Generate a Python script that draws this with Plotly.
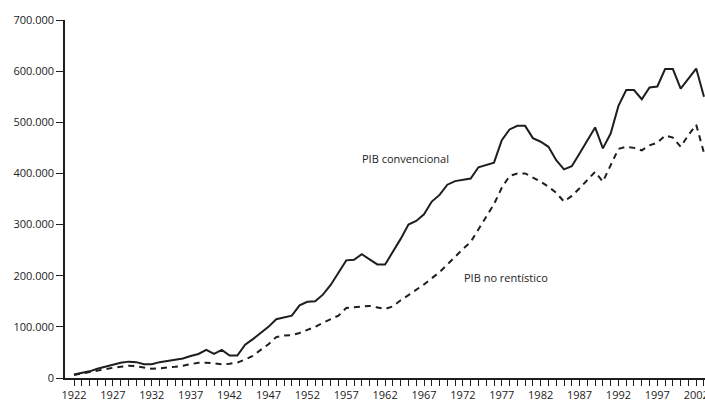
import plotly.graph_objects as go

years = list(range(1922, 2004))

pib_convencional = [
    7, 10, 13, 18, 22, 26, 30, 32, 31, 27,
    27, 31, 33, 36, 38, 43, 47, 55, 47, 55,
    44, 44, 65, 76, 88, 100, 115, 118, 122, 142,
    149, 150, 163, 182, 205, 230, 231, 242, 232, 222,
    222, 246, 272, 300, 307, 320, 345, 358, 378, 385,
    387, 390, 412, 417,
    421, 465, 486, 493, 493, 469, 462, 452, 426, 408,
    414, 439, 465, 490, 449, 478, 532, 563, 563, 545,
    568, 570, 604, 604, 566, 585, 605, 550,
]
pib_convencional = [v * 1000 for v in pib_convencional]

pib_no_rentistico = [
    6, 9, 12, 15, 17, 20, 22, 24, 23, 20,
    18, 19, 20, 22, 24, 27, 30, 30, 28, 27,
    28, 30, 36, 43, 55, 66,
    80, 83, 84, 88, 94, 100, 108, 115, 122, 137,
    138, 140, 141, 138, 135, 140, 152, 162, 172, 183,
    195, 207, 222, 238, 252, 266, 290, 315, 340, 372,
    395, 400, 400, 392, 384, 374, 362, 345, 356, 371,
    388, 403, 384, 416, 448, 452, 450, 445, 455, 460,
    474, 470, 452, 475, 495, 440,
]
pib_no_rentistico = [v * 1000 for v in pib_no_rentistico]

y_tickvals = [0, 100000, 200000, 300000, 400000, 500000, 600000, 700000]
y_ticktext = ["0", "100.000", "200.000", "300.000", "400.000", "500.000", "600.000", "700.000"]

x_tickvals = years
x_ticktext = [str(y) if (y - 1922) % 5 == 0 else "" for y in years]

label_conv = "PIB convencional"
label_norent = "PIB no rentístico"

ink = "#1e1e1e"
font_family = "Open Sans, DejaVu Sans, sans-serif"

fig = go.Figure()
fig.add_trace(go.Scatter(
    x=years, y=pib_convencional, mode="lines",
    line=dict(color=ink, width=2), name=label_conv, showlegend=False,
))
fig.add_trace(go.Scatter(
    x=years, y=pib_no_rentistico, mode="lines",
    line=dict(color=ink, width=2, dash="6px,5px"), name=label_norent, showlegend=False,
))

fig.add_annotation(x=1964.6, y=430000, text=label_conv, showarrow=False,
                   xanchor="center", yanchor="middle",
                   font=dict(family=font_family, size=11, color="#222"))
fig.add_annotation(x=1977.6, y=196000, text=label_norent, showarrow=False,
                   xanchor="center", yanchor="middle",
                   font=dict(family=font_family, size=11, color="#222"))

fig.update_layout(
    width=705, height=403,
    margin=dict(l=65, r=0, t=20, b=25, pad=0),
    paper_bgcolor="white", plot_bgcolor="white",
    font=dict(family=font_family, size=11, color="#222"),
    showlegend=False,
)
fig.update_xaxes(
    range=[1920.84, 2003.13],
    tickvals=x_tickvals, ticktext=x_ticktext,
    ticks="outside", ticklen=6, tickwidth=1, tickcolor=ink,
    showline=True, linecolor=ink, linewidth=1.5,
    showgrid=False, zeroline=False, automargin=False,
    ticklabeloverflow="allow",
    tickfont=dict(family=font_family, size=11, color="#222"),
)
fig.update_yaxes(
    range=[0, 700000],
    tickvals=y_tickvals, ticktext=y_ticktext,
    ticks="outside", ticklen=7, tickwidth=1, tickcolor=ink,
    showline=True, linecolor=ink, linewidth=1.5,
    showgrid=False, zeroline=False, automargin=False,
    tickfont=dict(family=font_family, size=11, color="#222"),
)

# remove the browser's default body margin and any scrollbars so the figure fills the window exactly
post = ("document.body.style.margin='0';"
        "document.body.style.overflow='hidden';"
        "document.documentElement.style.overflow='hidden';")

fig.write_html("out.html", post_script=post, config={"displayModeBar": False})
